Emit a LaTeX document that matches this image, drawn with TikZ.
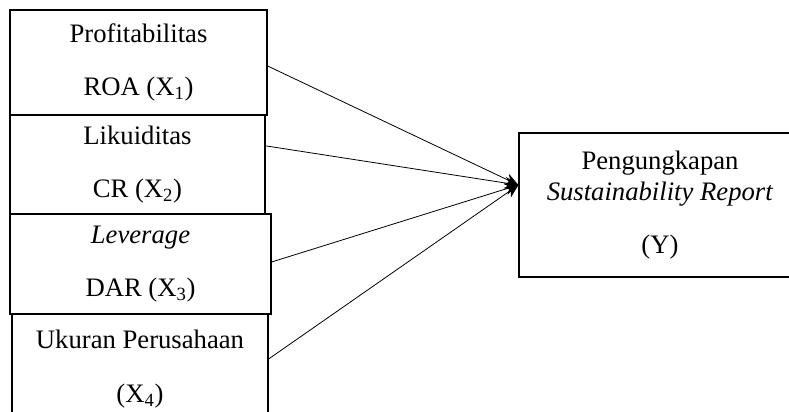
\documentclass[tikz,border=0pt]{standalone}
\usepackage{fontspec}
\setmainfont{Liberation Serif}
\usetikzlibrary{arrows.meta}
\begin{document}
\begin{tikzpicture}[x=0.75pt,y=-0.75pt,
		varbox/.style={draw,line width=0.9pt,fill=white,align=center,inner sep=0pt,
			font=\fontsize{20}{40}\selectfont},
		link/.style={line width=0.6pt,-{Stealth[length=10pt,width=9pt]}}]
	\clip (0,0) rectangle (789,411);
	% independent variables
	\node[varbox,minimum width=192.75pt,minimum height=78.75pt] (X1) at (138.5,62.5)
		{Profitabilitas\\ROA (X\textsubscript{1})};
	\node[varbox,minimum width=191.25pt,minimum height=74.25pt] (X2) at (137.5,164.5)
		{Likuiditas\\CR (X\textsubscript{2})};
	\node[varbox,minimum width=195.75pt,minimum height=75pt] (X3) at (140.5,264)
		{\textit{Leverage}\\DAR (X\textsubscript{3})};
	\node[varbox,minimum width=192pt,minimum height=82.5pt] (X4) at (140,369)
		{Ukuran Perusahaan\\(X\textsubscript{4})};
	% dependent variable
	\node[varbox,minimum width=211.5pt,minimum height=108pt,
		font=\fontsize{20}{23}\selectfont] (Y) at (660,205)
		{Pengungkapan\\\textit{Sustainability Report}\\[17pt](Y)};
	\coordinate (tip) at ([yshift=15pt]Y.west);
	\draw[link] ([yshift=-2.6pt]X1.east) -- (tip);
	\draw[link] ([yshift=14pt]X2.east) -- (tip);
	\draw[link] ([yshift=1.5pt]X3.east) -- (tip);
	\draw[link] ([yshift=7.5pt]X4.east) -- (tip);
\end{tikzpicture}
\end{document}
